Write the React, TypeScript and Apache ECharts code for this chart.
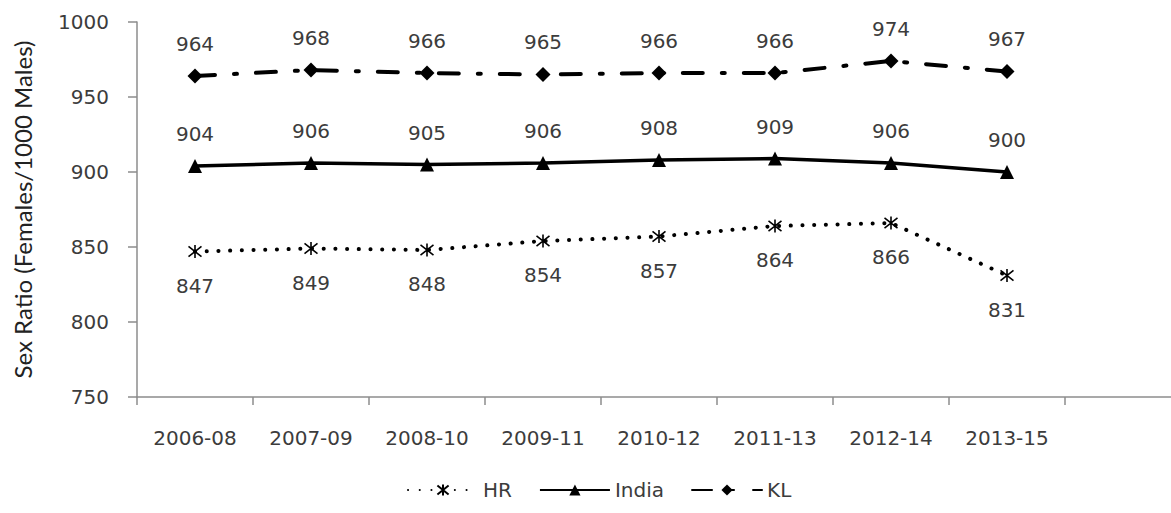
import React, { useEffect, useRef } from "react";
import * as echarts from "echarts";

const periods = ["2006-08", "2007-09", "2008-10", "2009-11", "2010-12", "2011-13", "2012-14", "2013-15", ""];
const hrValues = [847, 849, 848, 854, 857, 864, 866, 831];
const indiaValues = [904, 906, 905, 906, 908, 909, 906, 900];
const klValues = [964, 968, 966, 965, 966, 966, 974, 967];
const yTicks = { min: 750, max: 1000, step: 50 };

const FONT = "DejaVu Sans";
const TEXT = "#3c3c3c";
const AXIS = "#8c8c8c";

// asterisk marker: an X crossed by a vertical stroke
const STAR = "path://M1,1L9,9M9,1L1,9M5,0L5,10";

// the plot runs past the right edge of the page, so the chart is wider than its frame
const CHART_W = 1200;
const CHART_H = 513;

export default function App() {
  const ref = useRef<HTMLDivElement>(null);

  useEffect(() => {
    if (!ref.current) return;
    const chart = echarts.init(ref.current, undefined, { renderer: "svg" });
    const labelStyle = { show: true, color: TEXT, fontFamily: FONT, fontSize: 20 };
    chart.setOption({
      animation: false,
      backgroundColor: "#fff",
      grid: { left: 137, top: 22, bottom: 116, width: 1044 },
      legend: {
        bottom: 8,
        left: 402,
        itemWidth: 70,
        itemHeight: 14,
        itemGap: 27,
        textStyle: { color: TEXT, fontFamily: FONT, fontSize: 20 },
        data: ["HR", "India", "KL"],
      },
      xAxis: {
        type: "category",
        data: periods,
        boundaryGap: true,
        axisLine: { lineStyle: { color: AXIS, width: 1.5 } },
        axisTick: { show: true, length: 8, lineStyle: { color: AXIS, width: 1.5 } },
        axisLabel: { color: TEXT, fontFamily: FONT, fontSize: 20, margin: 31 },
        splitLine: { show: false },
      },
      yAxis: {
        type: "value",
        min: yTicks.min,
        max: yTicks.max,
        interval: yTicks.step,
        name: "Sex Ratio (Females/1000 Males)",
        nameLocation: "middle",
        nameRotate: 90,
        nameGap: 103,
        nameTextStyle: { color: "#222", fontFamily: "Lato", fontSize: 24 },
        axisLine: { show: true, lineStyle: { color: AXIS, width: 1.5 } },
        axisTick: { show: true, length: 9, lineStyle: { color: AXIS, width: 1.5 } },
        axisLabel: {
          color: TEXT,
          fontFamily: FONT,
          fontSize: 20,
          margin: 28,
          formatter: (v: number) => String(v),
        },
        splitLine: { show: false },
      },
      series: [
        {
          name: "HR",
          type: "line",
          data: hrValues,
          symbol: STAR,
          symbolSize: 13,
          itemStyle: { color: "#000", borderColor: "#000", borderWidth: 1.6 },
          lineStyle: { color: "#000", width: 4, type: [0.1, 11.6], cap: "round" },
          label: { ...labelStyle, position: "bottom", distance: 17 },
        },
        {
          name: "India",
          type: "line",
          data: indiaValues,
          symbol: "triangle",
          symbolSize: 14,
          itemStyle: { color: "#000" },
          lineStyle: { color: "#000", width: 3.5 },
          label: { ...labelStyle, position: "top", distance: 15 },
        },
        {
          name: "KL",
          type: "line",
          data: klValues,
          symbol: "diamond",
          symbolSize: 15,
          itemStyle: { color: "#000" },
          lineStyle: { color: "#000", width: 4, type: [20, 19, 3, 19], cap: "round" },
          label: { ...labelStyle, position: "top", distance: 15 },
        },
      ],
    });
    return () => chart.dispose();
  }, []);

  return (
    <div
      style={{
        position: "absolute",
        left: 0,
        top: 0,
        width: 1171,
        height: 513,
        overflow: "hidden",
        background: "#fff",
      }}
    >
      <div ref={ref} style={{ width: CHART_W, height: CHART_H }} />
    </div>
  );
}
